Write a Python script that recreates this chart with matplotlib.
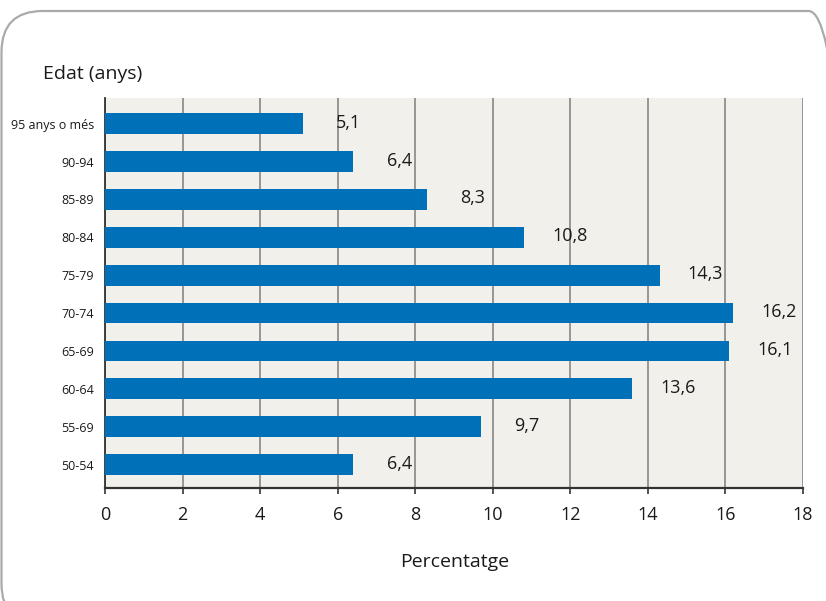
import matplotlib
matplotlib.use("Agg")
import matplotlib.pyplot as plt
from matplotlib.patches import FancyBboxPatch

plt.rcParams['font.family'] = ['Open Sans', 'DejaVu Sans']

categories = ["50-54", "55-69", "60-64", "65-69", "70-74", "75-79",
              "80-84", "85-89", "90-94", "95 anys o més"]
values = [6.4, 9.7, 13.6, 16.1, 16.2, 14.3, 10.8, 8.3, 6.4, 5.1]
value_labels = ["6,4", "9,7", "13,6", "16,1", "16,2", "14,3", "10,8", "8,3", "6,4", "5,1"]
xticks = [0, 2, 4, 6, 8, 10, 12, 14, 16, 18]

fig = plt.figure(figsize=(8.26, 6.01), dpi=100)
fig.patch.set_facecolor("white")

# rounded border (partly outside the canvas, as in the reference)
x0, y0, x1, y1 = 1.5, 11, 850, 625
border = FancyBboxPatch((x0 / 826, 1 - y1 / 601), (x1 - x0) / 826, (y1 - y0) / 601,
                        boxstyle="round,pad=0,rounding_size=0.05",
                        transform=fig.transFigure, facecolor="none",
                        edgecolor="#aaaaaa", linewidth=1.6, mutation_aspect=826 / 601)
fig.patches.append(border)

ax = fig.add_axes([105 / 826, 1 - 488 / 601, (803 - 105) / 826, (488 - 98) / 601])
ax.set_facecolor("#f2f0ea")

y = list(range(len(categories)))
ax.barh(y, values, height=0.55, color="#0070b8", zorder=3)
for yi, v, lab in zip(y, values, value_labels):
    ax.annotate(lab, (v, yi), xytext=(46, 1), textcoords="offset pixels",
                ha="center", va="center", fontsize=13, color="#1a1a1a", zorder=4)

ax.set_xlim(0, 18)
ax.set_ylim(-0.62, 9.68)
ax.set_xticks(xticks)
ax.set_xticklabels([str(t) for t in xticks], fontsize=13, color="#1a1a1a")
ax.set_yticks(y)
ax.set_yticklabels(categories, fontsize=9, color="#1a1a1a")
ax.tick_params(axis="y", length=0, pad=8)
ax.tick_params(axis="x", length=4, width=1.2, color="#333333", direction="out", pad=9)

ax.grid(axis="x", color="#8f8f8f", linewidth=1.3, zorder=1)
for s in ["top", "right"]:
    ax.spines[s].set_visible(False)
ax.spines["left"].set_color("#333333")
ax.spines["left"].set_linewidth(1.3)
ax.spines["bottom"].set_color("#333333")
ax.spines["bottom"].set_linewidth(1.6)

fig.text(43 / 826, 1 - 74 / 601, "Edat (anys)", fontsize=14, color="#1a1a1a",
         ha="left", va="center")
fig.text(455 / 826, 1 - 562 / 601, "Percentatge", fontsize=14, color="#1a1a1a",
         ha="center", va="center")

fig.savefig("out.png", dpi=100)
